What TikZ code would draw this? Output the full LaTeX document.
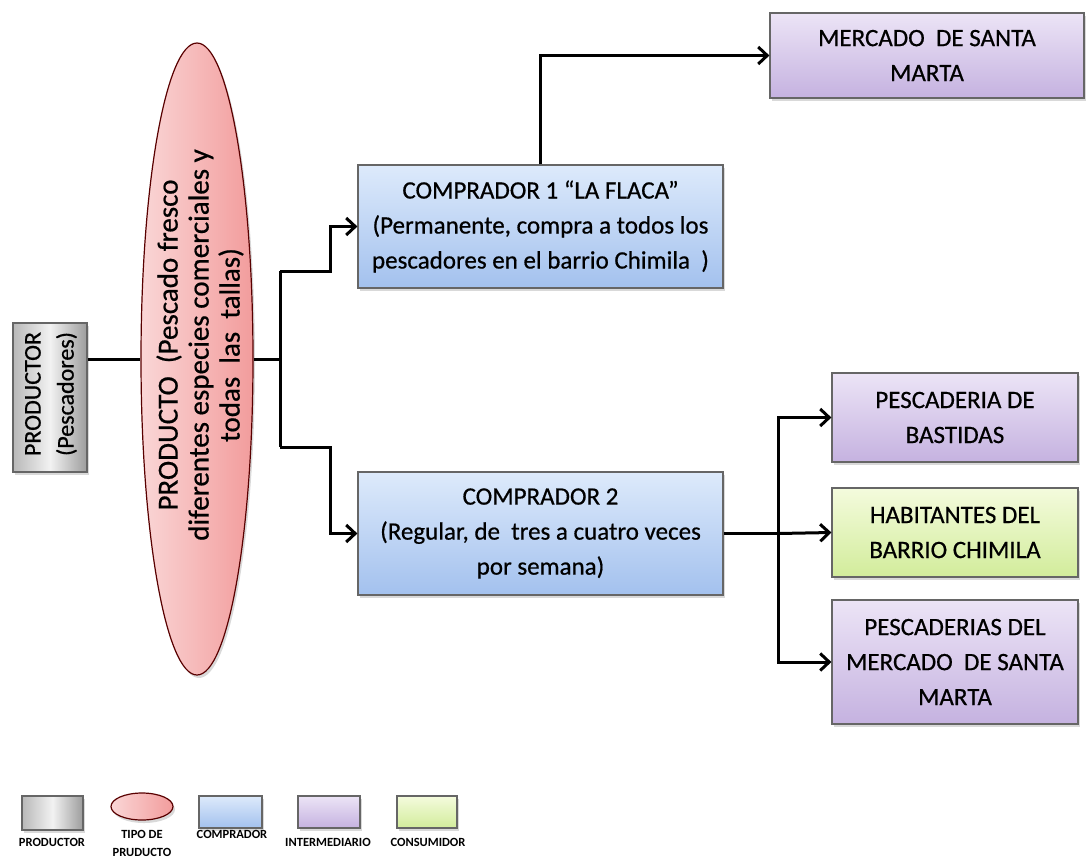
\documentclass[tikz,border=0pt]{standalone}
\usepackage{fontspec}
\setmainfont{Carlito}
\newfontfamily\gruesa{Carlito}[FakeBold=0.6]
\usetikzlibrary{shapes.geometric,arrows.meta,shadows}

\definecolor{grisclaro}{HTML}{F2F2F2}
\definecolor{grisosc}{HTML}{B8B8B8}
\definecolor{rosaclaro}{HTML}{FAD6D6}
\definecolor{rosaosc}{HTML}{F29C9C}
\definecolor{azulclaro}{HTML}{DDEAFB}
\definecolor{azulosc}{HTML}{A3C1EE}
\definecolor{moradoclaro}{HTML}{ECE4F6}
\definecolor{moradoosc}{HTML}{C5B2E0}
\definecolor{verdeclaro}{HTML}{F4FBDD}
\definecolor{verdeosc}{HTML}{D2EC9B}

\begin{document}
\begin{tikzpicture}[x=1pt,y=-1pt,
	>={Straight Barb[length=9pt,width=17pt]},
	every node/.style={font=\gruesa\fontsize{25}{35}\selectfont, align=center, inner sep=0pt},
	caja/.style={draw=black!60, line width=1.2pt, drop shadow={shadow xshift=2pt, shadow yshift=-3pt, opacity=0.3}},
	productor/.style={caja, left color=grisosc, right color=grisosc!85!black, middle color=grisclaro},
	tipo/.style={caja, ellipse, draw=red!35!black, left color=rosaclaro, right color=rosaosc},
	comprador/.style={caja, top color=azulclaro, bottom color=azulosc},
	intermediario/.style={caja, top color=moradoclaro, bottom color=moradoosc},
	consumidor/.style={caja, top color=verdeclaro, bottom color=verdeosc},
	leyenda/.style={font=\fontsize{12.5}{18}\selectfont\bfseries},
	linea/.style={line width=3pt}]
	\useasboundingbox (0,0) rectangle (1091,863);

	% productor y producto
	\node[productor, minimum width=74, minimum height=149] (prod) at (50,397.5) {};
	\node[rotate=90, font=\gruesa\fontsize{24}{33}\selectfont] (prodtxt) at (51,394) {PRODUCTOR\\(Pescadores)};
	\node[tipo, minimum width=112, minimum height=632] (tipo) at (197,359) {};
	\node[rotate=90, font=\gruesa\fontsize{29}{31}\selectfont] (tipotxt) at (200,345) {PRODUCTO\ \ (Pescado fresco\\diferentes especies comerciales y\\todas\ \ las\ \ tallas)};

	% compradores
	\node[comprador, minimum width=365, minimum height=123] (c1) at (540.5,226.5) {COMPRADOR 1 “LA FLACA”\\(Permanente, compra a todos los\\pescadores en el barrio Chimila\ \ )};
	\node[comprador, minimum width=365, minimum height=123] (c2) at (540.5,533.5) {COMPRADOR 2\\(Regular, de\ \ tres a cuatro veces\\por semana)};

	% destinos
	\node[intermediario, minimum width=314, minimum height=85] (mercado) at (927,55.5) {MERCADO\ \ DE SANTA\\MARTA};
	\node[intermediario, minimum width=246, minimum height=89] (bastidas) at (955,417.5) {PESCADERIA DE\\BASTIDAS};
	\node[consumidor, minimum width=246, minimum height=89] (chimila) at (955,532.5) {HABITANTES DEL\\BARRIO CHIMILA};
	\node[intermediario, minimum width=246, minimum height=124] (pescaderias) at (955,662) {PESCADERIAS DEL\\MERCADO\ \ DE SANTA\\MARTA};

	\coordinate (rama) at (280,359);
	\coordinate (rama1) at (280,271);
	\coordinate (rama2) at (280,447);
	\coordinate (codo1) at (330,271);
	\coordinate (codo2) at (330,447);
	\coordinate (rama3) at (778,533.5);

	\draw[linea] (tipo.west -| prod.east) -- (tipo.west);
	\draw[linea] (tipo.east) -- (rama);
	\draw[linea] (rama1) -- (rama2);
	\draw[linea,->] (rama1) -- (codo1) |- (c1.west);
	\draw[linea,->] (rama2) -- (codo2) |- (c2.west);
	\draw[linea,->] (c1.north) |- (mercado.west);
	\draw[linea] (c2.east) -- (rama3);
	\draw[linea,->] (rama3) |- (bastidas.west);
	\draw[linea,->] (rama3) -- (chimila.west);
	\draw[linea,->] (rama3) |- (pescaderias.west);

	% leyenda
	\node[productor, minimum width=61, minimum height=34] (lprod) at (52.5,813) {};
	\node[tipo, minimum width=62, minimum height=27] (ltipo) at (142,806.5) {};
	\node[comprador, minimum width=63, minimum height=32] (lcomp) at (230.5,812) {};
	\node[intermediario, minimum width=62, minimum height=32] (linter) at (329,812) {};
	\node[consumidor, minimum width=60, minimum height=32] (lcons) at (427,812) {};
	\node[leyenda] (tprod) at (52,842) {PRODUCTOR};
	\node[leyenda] (ttipo) at (142,843) {TIPO DE\\PRUDUCTO};
	\node[leyenda] (tcomp) at (232,834) {COMPRADOR};
	\node[leyenda] (tinter) at (328,842) {INTERMEDIARIO};
	\node[leyenda] (tcons) at (428,842) {CONSUMIDOR};
\end{tikzpicture}
\end{document}
